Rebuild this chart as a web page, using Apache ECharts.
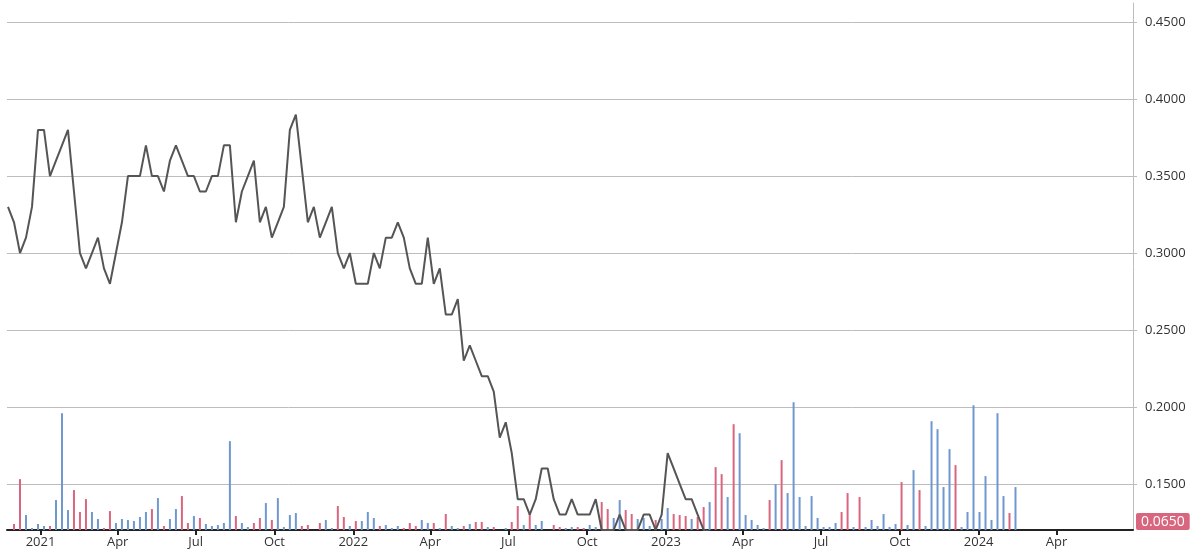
<!DOCTYPE html>
<html>
<head>
<meta charset="utf-8">
<script src="https://cdn.jsdelivr.net/npm/echarts@6/dist/echarts.min.js"></script>
<style>
  html, body { margin: 0; padding: 0; background: #fff; }
  #main { width: 1191px; height: 549px; }
</style>
</head>
<body>
<div id="main"></div>
<script>
// weekly data, first week starts 2020-11-24
const firstWeek = [2020, 10, 24];
const monthNames = ['Jan', 'Feb', 'Mar', 'Apr', 'May', 'Jun', 'Jul', 'Aug', 'Sep', 'Oct', 'Nov', 'Dec'];

// weekly close, only the part that is above the axis floor
const closePrice = [
  0.33, 0.32, 0.30, 0.31, 0.33, 0.38, 0.38, 0.35, 0.36, 0.37,
  0.38, 0.34, 0.30, 0.29, 0.30, 0.31, 0.29, 0.28, 0.30, 0.32,
  0.35, 0.35, 0.35, 0.37, 0.35, 0.35, 0.34, 0.36, 0.37, 0.36,
  0.35, 0.35, 0.34, 0.34, 0.35, 0.35, 0.37, 0.37, 0.32, 0.34,
  0.35, 0.36, 0.32, 0.33, 0.31, 0.32, 0.33, 0.38, 0.39, 0.355,
  0.32, 0.33, 0.31, 0.32, 0.33, 0.30, 0.29, 0.30, 0.28, 0.28,
  0.28, 0.30, 0.29, 0.31, 0.31, 0.32, 0.31, 0.29, 0.28, 0.28,
  0.31, 0.28, 0.29, 0.26, 0.26, 0.27, 0.23, 0.24, 0.23, 0.22,
  0.22, 0.21, 0.18, 0.19, 0.17, 0.14, 0.14, 0.13, 0.14, 0.16,
  0.16, 0.14, 0.13, 0.13, 0.14, 0.13, 0.13, 0.13, 0.14, 0.12,
  0.12, 0.12, 0.13, 0.12, 0.12, 0.12, 0.13, 0.13, 0.12, 0.13,
  0.17, 0.16, 0.15, 0.14, 0.14, 0.13, 0.12
];
const lastPrice = 0.065;

// weekly volume (relative units)
const volume = [
  0, 6, 51, 15, 2, 6, 4, 4, 30, 117,
  20, 40, 18, 31, 18, 11, 2, 19, 7, 11,
  10, 9, 13, 18, 21, 32, 4, 11, 21, 34,
  7, 14, 12, 6, 4, 5, 7, 89, 14, 7,
  3, 7, 12, 27, 10, 32, 3, 15, 17, 4,
  5, 0, 7, 10, 2, 24, 13, 4, 9, 9,
  18, 12, 4, 5, 2, 4, 2, 7, 4, 10,
  7, 7, 2, 16, 4, 2, 4, 6, 8, 8,
  3, 3, 0, 2, 8, 24, 5, 16, 5, 9,
  0, 5, 3, 2, 3, 3, 2, 5, 3, 28,
  21, 12, 30, 20, 16, 11, 12, 4, 10, 11,
  22, 16, 15, 14, 11, 13, 23, 28, 63, 56,
  33, 106, 97, 15, 10, 5, 2, 30, 46, 70,
  37, 128, 33, 4, 34, 12, 3, 3, 7, 18,
  37, 3, 33, 3, 10, 4, 16, 3, 6, 48,
  5, 60, 40, 4, 109, 101, 43, 81, 65, 3,
  18, 125, 18, 54, 10, 117, 34, 17, 43
];
// u = up week (blue), d = down week (red)
const direction =
  'udduuuuduu' + 'uddduudduu' + 'uuuududuud' + 'duduuuuudu' + 'udduduuuud' +
  'duduuddudu' + 'uuduuudddu' + 'ududuududd' + 'uduudduduu' + 'udduudduud' +
  'duudduuudu' + 'uddduddudd' + 'uduuuuudud' + 'uuuuuuuuud' + 'duduuuuuud' +
  'uuduuuuudu' + 'uuuuuuudu';

const upColor = '#6f97d0';
const downColor = '#d9667f';

function weekDate(i) {
  return new Date(firstWeek[0], firstWeek[1], firstWeek[2] + i * 7).getTime();
}

const lineData = closePrice.map((v, i) => [weekDate(i), v]);
lineData.push([weekDate(volume.length - 1), lastPrice]);

const barData = volume.map((v, i) => ({
  value: [weekDate(i), v],
  itemStyle: { color: direction[i] === 'u' ? upColor : downColor }
}));

const DAY = 24 * 3600 * 1000;
const myChart = echarts.init(document.getElementById('main'));
const option = {
  animation: false,
  textStyle: { fontFamily: 'Open Sans' },
  grid: { left: 7, right: 58, top: 3, bottom: 18 },
  xAxis: {
    type: 'time',
    min: new Date(2020, 10, 24).getTime(),
    max: new Date(2024, 5, 28).getTime(),
    splitNumber: 14,
    minInterval: 90 * DAY,
    maxInterval: 92 * DAY,
    axisLine: { lineStyle: { color: '#222', width: 2 } },
    axisTick: { show: true, length: 5, lineStyle: { color: '#222', width: 2 } },
    axisLabel: {
      color: '#333',
      fontSize: 13,
      margin: 6,
      formatter: function (val) {
        const d = new Date(val);
        return d.getMonth() === 0 ? String(d.getFullYear()) : monthNames[d.getMonth()];
      }
    },
    splitLine: { show: false }
  },
  yAxis: [
    {
      type: 'value',
      position: 'right',
      min: 0.12,
      max: 0.4625,
      splitNumber: 7,
      axisLine: { show: true, lineStyle: { color: '#bdbdbd' } },
      axisTick: { show: true, length: 4, lineStyle: { color: '#bdbdbd' } },
      axisLabel: {
        color: '#333',
        fontSize: 13,
        margin: 12,
        showMinLabel: false,
        showMaxLabel: false,
        formatter: v => v.toFixed(4)
      },
      splitLine: { show: true, showMinLine: false, showMaxLine: false, lineStyle: { color: '#bdbdbd' } }
    },
    {
      type: 'value',
      min: 0,
      max: 528,
      show: false,
      splitLine: { show: false }
    }
  ],
  series: [
    {
      name: 'volume',
      type: 'bar',
      yAxisIndex: 1,
      barWidth: 2,
      data: barData
    },
    {
      name: 'price',
      type: 'line',
      data: lineData,
      symbol: 'none',
      clip: true,
      lineStyle: { color: '#555', width: 2 },
      z: 5
    }
  ],
  graphic: [
    {
      type: 'text',
      left: 1136,
      top: 513,
      z: 100,
      style: {
        text: lastPrice.toFixed(4),
        fill: '#fff',
        font: '14px "Open Sans"',
        backgroundColor: downColor,
        padding: [2, 5, 1, 5],
        borderRadius: 2
      }
    }
  ]
};
myChart.setOption(option);
</script>
</body>
</html>
